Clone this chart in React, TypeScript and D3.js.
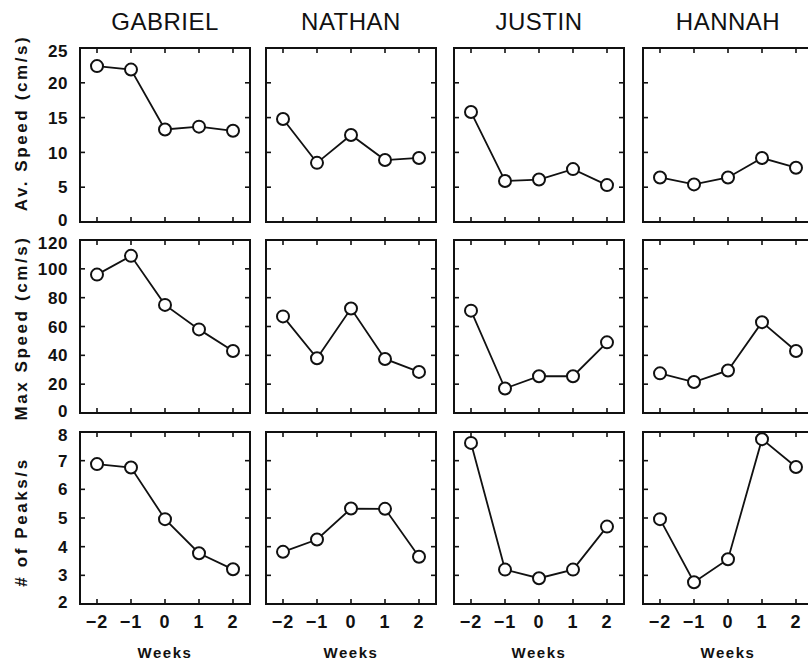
import React from "react";
import * as d3 from "d3";

const weeks = [-2, -1, 0, 1, 2];
const subjects = ["GABRIEL", "NATHAN", "JUSTIN", "HANNAH"];

const avSpeedGabriel = [22.4, 21.9, 13.3, 13.7, 13.1];
const avSpeedNathan = [14.8, 8.5, 12.5, 8.9, 9.2];
const avSpeedJustin = [15.8, 5.9, 6.1, 7.6, 5.3];
const avSpeedHannah = [6.4, 5.4, 6.4, 9.2, 7.8];

const maxSpeedGabriel = [96, 109, 75, 58, 43];
const maxSpeedNathan = [67, 38, 72.5, 37.5, 28.5];
const maxSpeedJustin = [71, 17, 25.5, 25.5, 49];
const maxSpeedHannah = [27.5, 21.5, 29.5, 63, 43];

const peaksGabriel = [6.88, 6.76, 4.96, 3.77, 3.21];
const peaksNathan = [3.82, 4.25, 5.33, 5.32, 3.65];
const peaksJustin = [7.62, 3.2, 2.9, 3.2, 4.7];
const peaksHannah = [4.96, 2.76, 3.56, 7.75, 6.78];

const avSpeedTicks = [0, 5, 10, 15, 20, 25];
const maxSpeedTicks = [0, 20, 40, 60, 80, 100, 120];
const peaksTicks = [2, 3, 4, 5, 6, 7, 8];

const rows = [
  { label: "Av. Speed (cm/s)", domain: [0, 25], ticks: avSpeedTicks, series: [avSpeedGabriel, avSpeedNathan, avSpeedJustin, avSpeedHannah] },
  { label: "Max Speed (cm/s)", domain: [0, 120], ticks: maxSpeedTicks, series: [maxSpeedGabriel, maxSpeedNathan, maxSpeedJustin, maxSpeedHannah] },
  { label: "# of Peaks/s", domain: [2, 8], ticks: peaksTicks, series: [peaksGabriel, peaksNathan, peaksJustin, peaksHannah] },
];

const W = 808;
const H = 663;
const colLeft = [80, 266, 454, 643];
const panelW = 170;
const rowTop = [48, 240, 432];
const rowBottom = [222, 413, 604];
const labelCenters = [123, 328, 522];
const FONT = "'Liberation Sans', Arial, Helvetica, sans-serif";

export default function App() {
  const line = (xs: d3.ScaleLinear<number, number>, ys: d3.ScaleLinear<number, number>) =>
    d3
      .line<number>()
      .x((_, i) => xs(weeks[i]))
      .y((d) => ys(d));

  return (
    <svg width={W} height={H} style={{ position: "absolute", left: 0, top: 0, background: "#fff" }} fontFamily={FONT}>
      <rect x={0} y={0} width={W} height={H} fill="#fff" />
      {subjects.map((s, c) => (
        <text key={s} x={colLeft[c] + panelW / 2} y={30} textAnchor="middle" fontSize={24} letterSpacing={0.5} fill="#111">
          {s}
        </text>
      ))}
      {rows.map((row, r) => {
        const y = d3.scaleLinear().domain(row.domain).range([rowBottom[r], rowTop[r]]);
        const n = row.ticks.length;
        return (
          <g key={r}>
            <text
              transform={`translate(27,${labelCenters[r]}) rotate(-90)`}
              textAnchor="middle"
              fontSize={17}
              fontWeight="bold"
              letterSpacing={2.6}
              fill="#111"
            >
              {row.label}
            </text>
            {row.ticks.map((t, i) => (
              <text
                key={t}
                x={68}
                y={y(t) + (i === 0 ? -2.5 : i === n - 1 ? 2.5 : 0)}
                dy="0.36em"
                textAnchor="end"
                fontSize={17}
                fontWeight="bold"
                letterSpacing={0.6}
                fill="#111"
              >
                {t}
              </text>
            ))}
            {subjects.map((s, c) => {
              const x = d3.scaleLinear().domain([-2.5, 2.5]).range([colLeft[c], colLeft[c] + panelW]);
              const x0 = colLeft[c];
              const x1 = colLeft[c] + panelW;
              const y0 = rowTop[r];
              const y1 = rowBottom[r];
              const tl = 5;
              const data = row.series[c];
              return (
                <g key={s}>
                  {weeks.map((w) => (
                    <g key={w} stroke="#111" strokeWidth={1.6}>
                      <line x1={x(w)} x2={x(w)} y1={y1} y2={y1 - tl} />
                      <line x1={x(w)} x2={x(w)} y1={y0} y2={y0 + tl} />
                    </g>
                  ))}
                  {row.ticks.map((t) => (
                    <g key={t} stroke="#111" strokeWidth={1.6}>
                      <line x1={x0} x2={x0 + tl} y1={y(t)} y2={y(t)} />
                      <line x1={x1} x2={x1 - tl} y1={y(t)} y2={y(t)} />
                    </g>
                  ))}
                  <rect x={x0} y={y0} width={panelW} height={y1 - y0} fill="none" stroke="#111" strokeWidth={2} />
                  <path d={line(x, y)(data) || ""} fill="none" stroke="#111" strokeWidth={1.8} />
                  {data.map((v, i) => (
                    <circle key={i} cx={x(weeks[i])} cy={y(v)} r={6} fill="#fff" stroke="#111" strokeWidth={2} />
                  ))}
                  {r === 2 &&
                    weeks.map((w) => (
                      <text key={w} x={x(w)} y={628} textAnchor="middle" fontSize={18} fontWeight="bold" letterSpacing={1} fill="#111">
                        {w < 0 ? "\u2212" + Math.abs(w) : String(w)}
                      </text>
                    ))}
                  {r === 2 && (
                    <text x={(x0 + x1) / 2} y={658} textAnchor="middle" fontSize={15} fontWeight="bold" letterSpacing={1.5} fill="#111">
                      Weeks
                    </text>
                  )}
                </g>
              );
            })}
          </g>
        );
      })}
    </svg>
  );
}
